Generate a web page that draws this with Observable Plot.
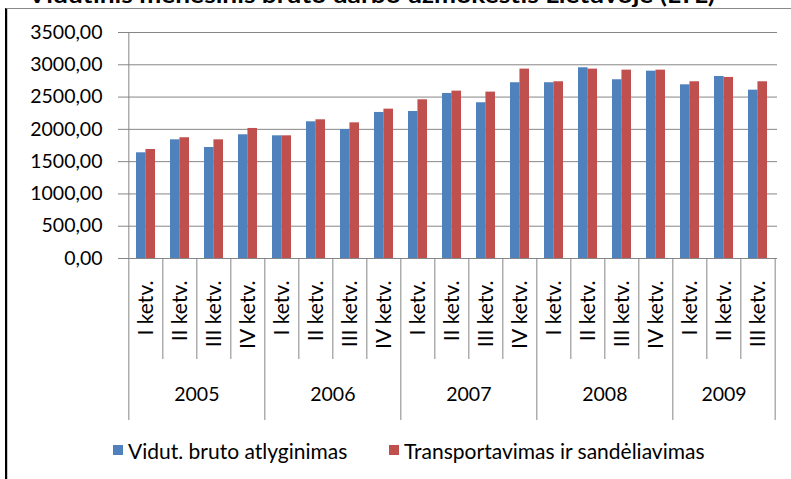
<!DOCTYPE html>
<html><head><meta charset="utf-8">
<script src="https://cdn.jsdelivr.net/npm/d3@7"></script>
<script src="https://cdn.jsdelivr.net/npm/@observablehq/plot@0.6"></script>
<style>
html,body{margin:0;padding:0;background:#fff;}
#wrap{position:relative;width:791px;height:479px;overflow:hidden;background:#fff;font-family:Lato,sans-serif;color:#000;}
#chart{position:absolute;left:0;top:0;}
#titlesvg{position:absolute;left:0;top:0;}
#legend{position:absolute;left:0;top:430px;width:791px;height:49px;font-size:21px;}
.sw{position:absolute;width:10px;height:10px;top:15px;}
.lt{position:absolute;top:9px;line-height:24px;white-space:nowrap;}
#border{position:absolute;left:5px;top:8px;right:-2px;bottom:-2px;border-left:2px solid #000;border-top:1px solid #8a8a8a;pointer-events:none;}
#border2{position:absolute;left:7px;top:9px;width:1px;bottom:0;background:#c8c8c8;}
</style></head><body>
<div id="wrap">
  <div id="chart"></div>
  <svg id="titlesvg" width="791" height="12"><text id="title" x="28" y="3" font-family="Lato, sans-serif" font-weight="bold" font-size="22" textLength="687" lengthAdjust="spacingAndGlyphs">Vidutinis mėnesinis bruto darbo užmokestis Lietuvoje (LTL)</text></svg>
  <div id="legend"></div>
  <div id="border2"></div>
  <div id="border"></div>
</div>
<script>
// ---- data ----
const years = ["2005", "2006", "2007", "2008", "2009"];
const quartersPerYear = [4, 4, 4, 4, 3];
const quarterLabels = ["I ketv.", "II ketv.", "III ketv.", "IV ketv."];
const seriesNames = ["Vidut. bruto atlyginimas", "Transportavimas ir sandėliavimas"];
const seriesColors = ["#4F81BD", "#C0504D"];
const vidut = [1637, 1838, 1719, 1916, 1900, 2117, 1998, 2262, 2277, 2556, 2412, 2722, 2722, 2954, 2768, 2901, 2690, 2819, 2607];
const transport = [1688, 1870, 1838, 2014, 1900, 2148, 2101, 2313, 2458, 2592, 2577, 2933, 2737, 2933, 2917, 2917, 2737, 2804, 2737];
const yTicks = [0, 500, 1000, 1500, 2000, 2500, 3000, 3500];

// ---- table ----
const rows = [];
years.forEach((yr, yi) => {
  for (let q = 0; q < quartersPerYear[yi]; q++) {
    const i = rows.length;
    rows.push({key: yr + " " + quarterLabels[q], year: yr, q: quarterLabels[q], first: q === 0, vidut: vidut[i], transport: transport[i]});
  }
});
const keys = rows.map(d => d.key);
const yearEven = [], yearOdd = [];
{
  let start = 0;
  years.forEach((yr, yi) => {
    const n = quartersPerYear[yi];
    if (n % 2 === 0) yearEven.push({key: keys[start + n / 2], year: yr});
    else yearOdd.push({key: keys[start + Math.floor(n / 2)], year: yr});
    start += n;
  });
}

// ---- layout ----
const W = 791, H = 430, mL = 125, mR = 14, mT = 32, mB = 10, yZero = 258;
const step = (W - mL - mR) / keys.length;
const half = step * 0.55 / 2;
const gray = "#868686";
const fmt = d => d.toFixed(2).replace(".", ",");

const chart = Plot.plot({
  width: W, height: H,
  marginLeft: mL, marginRight: mR, marginTop: mT, marginBottom: mB,
  style: {fontFamily: "Lato, sans-serif", fontSize: "19px", color: "#000", background: "transparent"},
  x: {type: "band", domain: keys, paddingInner: 0.45, paddingOuter: 0.225, axis: null},
  y: {domain: [0, 3500], range: [yZero, mT], axis: null},
  marks: [
    Plot.gridY(yTicks, {stroke: gray, strokeOpacity: 1}),
    Plot.axisY(yTicks, {tickSize: 7, tickPadding: 16, tickFormat: fmt, stroke: gray, fill: "#000", fontSize: 19.5, label: null}),
    Plot.barY(rows, {x: "key", y: "vidut", fill: seriesColors[0], insetRight: half}),
    Plot.barY(rows, {x: "key", y: "transport", fill: seriesColors[1], insetLeft: half}),
    Plot.ruleY([0], {stroke: gray, insetLeft: -7}),
    // left axis line + outer boundary
    Plot.ruleX([keys[0]], {x: d => d, dx: -step / 2, stroke: gray}),
    // quarter separators
    Plot.ruleX(rows.filter(d => !d.first), {x: "key", dx: -step / 2, stroke: gray, insetTop: yZero - mT, insetBottom: (H - mB) - 359}),
    // year separators
    Plot.ruleX(rows.filter((d, i) => d.first && i > 0), {x: "key", dx: -step / 2, stroke: gray, insetTop: yZero - mT}),
    Plot.ruleX([keys[keys.length - 1]], {x: d => d, dx: step / 2, stroke: gray, insetTop: yZero - mT}),
    // quarter labels
    Plot.text(rows, {x: "key", text: "q", frameAnchor: "bottom", dy: 280 - (H - mB), rotate: -90, textAnchor: "end", lineAnchor: "middle", fontSize: 21, fill: "#000"}),
    // year labels
    Plot.text(yearEven, {x: "key", text: "year", frameAnchor: "bottom", dy: 394 - (H - mB), dx: -step / 2, lineAnchor: "middle", fontSize: 19.5, fill: "#000"}),
    Plot.text(yearOdd, {x: "key", text: "year", frameAnchor: "bottom", dy: 394 - (H - mB), lineAnchor: "middle", fontSize: 19.5, fill: "#000"})
  ]
});
document.getElementById("chart").appendChild(chart);

// ---- legend ----
const legend = document.getElementById("legend");
const legendPos = [[113, 128], [389, 404]];
seriesNames.forEach((name, i) => {
  const sw = document.createElement("div");
  sw.className = "sw";
  sw.style.left = legendPos[i][0] + "px";
  sw.style.background = seriesColors[i];
  legend.appendChild(sw);
  const t = document.createElement("div");
  t.className = "lt";
  t.style.left = legendPos[i][1] + "px";
  t.textContent = name;
  legend.appendChild(t);
});
</script>
</body></html>
